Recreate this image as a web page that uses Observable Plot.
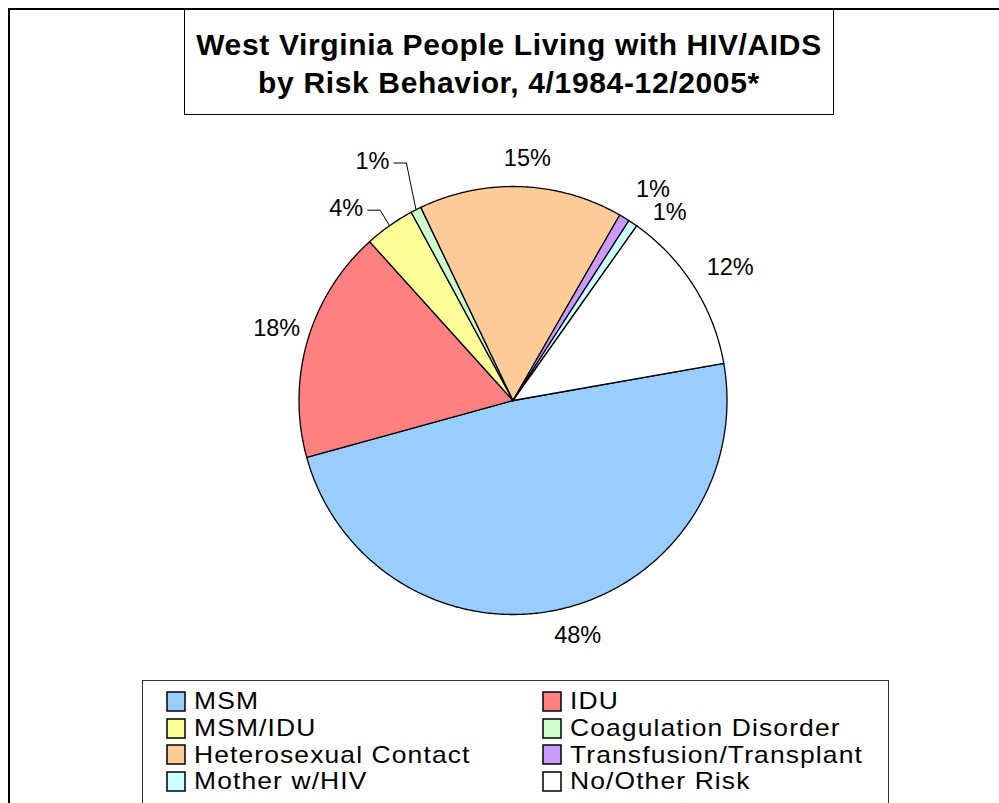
<!DOCTYPE html>
<html>
<head>
<meta charset="utf-8">
<script src="https://cdn.jsdelivr.net/npm/d3@7"></script>
<script src="https://cdn.jsdelivr.net/npm/@observablehq/plot@0.6"></script>
<style>
html,body{margin:0;padding:0;background:#fff;overflow:hidden;}
#chart{position:relative;width:999px;height:803px;overflow:hidden;background:#fff;font-family:"Liberation Sans",Arial,sans-serif;}
#frame{position:absolute;left:8px;top:8px;width:1100px;height:1000px;border:2px solid #000;}
#title{position:absolute;left:184px;top:9px;width:650px;height:106px;box-sizing:border-box;border:1.5px solid #000;background:#fff;text-align:center;font-weight:bold;font-size:30px;letter-spacing:0.65px;line-height:38px;padding-top:16px;color:#000;}
#pie{position:absolute;left:0;top:120px;}
#legend{position:absolute;left:142px;top:680px;width:747px;height:200px;box-sizing:border-box;border:1px solid #333;background:#fff;padding:7px 0 0 24px;}
#legend .lg-swatches{font-family:"Liberation Sans",Arial,sans-serif;font-size:23.6px;letter-spacing:1px;margin:0;color:#000;}
#legend .lg-swatches-wrap{display:grid;grid-template-columns:376px auto;min-height:0;}
#legend .lg-swatch{margin:0;height:26.75px;line-height:26.75px;display:flex;align-items:center;white-space:nowrap;}
#legend .lg-swatch svg{margin-right:9px;flex-shrink:0;}
#legend .lg-swatch svg rect{stroke:#000;stroke-width:1.5px;}
#legend .lg-text{display:inline-block;transform:scaleX(1.12);transform-origin:0 50%;}
</style>
</head>
<body>
<div id="chart">
  <div id="frame"></div>
  <div id="pie"></div>
  <div id="title">West Virginia People Living with HIV/AIDS<br>by Risk Behavior, 4/1984-12/2005*</div>
  <div id="legend"></div>
</div>
<script>
// ---- data ----
const categories = ["MSM","IDU","MSM/IDU","Coagulation Disorder","Heterosexual Contact","Transfusion/Transplant","Mother w/HIV","No/Other Risk"];
const shares = [48.49, 17.6, 3.8, 0.8, 15.4, 0.8, 0.7, 12.41];
const colors = ["#99CCFF","#FF8080","#FFFF99","#CCFFCC","#FFCC99","#CC99FF","#CCFFFF","#FFFFFF"];

// ---- layout ----
const CX = 512.5, CY = 400, R = 214, START = 80 * Math.PI / 180, LABEL_R = 244;
const labelNudge = [[11,-3],[-2,-4],[-26,7],[-30,-22],[5,2],[13,-3],[20,14],[11,-3]];
const hasLeader = [false,false,true,true,false,false,false,false];

const total = d3.sum(shares);
const arcs = d3.pie().sort(null).startAngle(START).endAngle(START + 2 * Math.PI)(shares);

const slicePts = arcs.flatMap((a, i) => {
  const n = Math.max(2, Math.ceil((a.endAngle - a.startAngle) / (Math.PI / 360)));
  const pts = [{cat: categories[i], x: CX, y: CY}];
  for (let k = 0; k <= n; k++) {
    const t = a.startAngle + (a.endAngle - a.startAngle) * k / n;
    pts.push({cat: categories[i], x: CX + R * Math.sin(t), y: CY - R * Math.cos(t)});
  }
  pts.push({cat: categories[i], x: CX, y: CY});
  return pts;
});

const labels = arcs.map((a, i) => {
  const m = (a.startAngle + a.endAngle) / 2;
  return {
    cat: categories[i],
    text: d3.format(".0%")(shares[i] / total),
    x: CX + LABEL_R * Math.sin(m) + labelNudge[i][0],
    y: CY - LABEL_R * Math.cos(m) + labelNudge[i][1],
    m
  };
});

const leaders = labels.filter((d, i) => hasLeader[i]).flatMap(d => [
  {cat: d.cat, x: d.x + 21.5, y: d.y + 2},
  {cat: d.cat, x: d.x + 34, y: d.y + 2},
  {cat: d.cat, x: CX + R * Math.sin(d.m), y: CY - R * Math.cos(d.m)}
]);

const pie = Plot.plot({
  width: 999,
  height: 555,
  margin: 0,
  x: {domain: [0, 999], range: [0, 999], axis: null},
  y: {domain: [120, 675], range: [0, 555], axis: null},
  color: {domain: categories, range: colors},
  style: {background: "transparent", overflow: "visible"},
  marks: [
    Plot.line(slicePts, {x: "x", y: "y", z: "cat", fill: "cat", stroke: "#000", strokeWidth: 1.3, strokeLinejoin: "round"}),
    Plot.line(leaders, {x: "x", y: "y", z: "cat", stroke: "#000", strokeWidth: 1}),
    Plot.text(labels, {x: "x", y: "y", text: "text", fontSize: 23.5, fontFamily: "Liberation Sans, Arial, sans-serif", fill: "#000"})
  ]
});
document.getElementById("pie").appendChild(pie);

const lg = Plot.legend({
  color: {domain: categories, range: colors, type: "ordinal"},
  legend: "swatches",
  swatchWidth: 18,
  swatchHeight: 19,
  className: "lg"
});
// wrap each label text node so it can be styled
lg.querySelectorAll(".lg-swatch").forEach(sw => {
  Array.from(sw.childNodes).forEach(node => {
    if (node.nodeType === 3 && node.textContent.trim()) {
      const span = document.createElement("span");
      span.className = "lg-text";
      span.textContent = node.textContent;
      sw.replaceChild(span, node);
    }
  });
});
document.getElementById("legend").appendChild(lg);
</script>
</body>
</html>
